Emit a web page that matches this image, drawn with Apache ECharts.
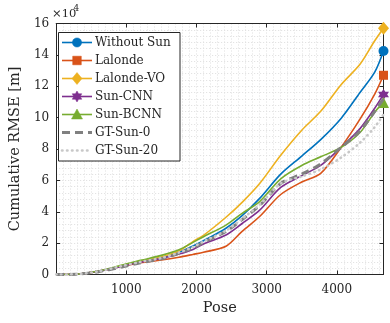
<!DOCTYPE html>
<html><head><meta charset="utf-8">
<script src="https://cdn.jsdelivr.net/npm/echarts@6/dist/echarts.min.js"></script>
<style>html,body{margin:0;padding:0;background:#fff}#c{width:390px;height:323px}</style>
</head><body><div id="c"></div>
<script>
// Pose index (x) and cumulative RMSE in units of 1e4 m (y)
const poses      = [0, 300, 600, 900, 1200, 1500, 1750, 1950, 2100, 2420, 2650, 2900, 3200, 3500, 3770, 4060, 4330, 4540, 4665];
const withoutSun = [0, 0.02, 0.2, 0.5, 0.8, 1.08, 1.42, 1.82, 2.15, 2.95, 3.75, 4.85, 6.4, 7.55, 8.6, 9.95, 11.6, 12.9, 14.25];
const lalonde    = [0, 0.02, 0.2, 0.48, 0.75, 0.92, 1.1, 1.28, 1.42, 1.8, 2.75, 3.7, 5.1, 5.9, 6.45, 8.1, 9.9, 11.5, 12.7];
const lalondeVO  = [0, 0.02, 0.2, 0.5, 0.82, 1.12, 1.5, 2.1, 2.5, 3.65, 4.6, 5.8, 7.6, 9.2, 10.4, 12.1, 13.4, 14.9, 15.7];
const sunCNN     = [0, 0.02, 0.2, 0.48, 0.78, 1.02, 1.3, 1.6, 1.95, 2.52, 3.25, 4.1, 5.55, 6.3, 6.95, 8.1, 9.3, 10.6, 11.48];
const sunBCNN    = [0, 0.02, 0.22, 0.55, 0.9, 1.22, 1.58, 2.05, 2.41, 3.15, 3.9, 4.65, 6.1, 6.95, 7.5, 8.1, 9.05, 10.35, 10.97];
const gtSun0     = [0, 0.02, 0.18, 0.45, 0.75, 1.0, 1.35, 1.7, 2.05, 2.75, 3.5, 4.4, 5.8, 6.4, 7.05, 8.1, 9.15, 10.4, 11.2];
const gtSun20    = [0, 0.02, 0.2, 0.5, 0.8, 1.05, 1.4, 1.75, 2.1, 2.8, 3.55, 4.45, 5.8, 6.25, 6.7, 7.45, 8.4, 9.4, 10.2];

const seriesNames = ['Without Sun', 'Lalonde', 'Lalonde-VO', 'Sun-CNN', 'Sun-BCNN', 'GT-Sun-0', 'GT-Sun-20'];
const seriesValues = [withoutSun, lalonde, lalondeVO, sunCNN, sunBCNN, gtSun0, gtSun20];
const xTicks = [1000, 2000, 3000, 4000];
const yTicks = [0, 2, 4, 6, 8, 10, 12, 14, 16];

const X_MAX = 4665, Y_MAX = 16;
const TXT = '#262626';
const FONT = 'DejaVu Serif';

const hexPath = 'path://M10 0L12.89 5L18.66 5L15.77 10L18.66 15L12.89 15L10 20L7.11 15L1.34 15L4.23 10L1.34 5L7.11 5Z';
const styles = [
  {color:'#0072BD', width:1.6, dash:null, symbol:'circle', size:10, lg:'circle'},
  {color:'#D95319', width:1.6, dash:null, symbol:'rect', size:9, lg:'rect'},
  {color:'#EDB120', width:1.6, dash:null, symbol:'diamond', size:[11,13], lg:'diamond'},
  {color:'#7E2F8E', width:1.6, dash:null, symbol:hexPath, size:11, lg:'hex'},
  {color:'#77AC30', width:1.6, dash:null, symbol:'triangle', size:11, lg:'triangle'},
  {color:'#808080', width:3, dash:[8,5], symbol:'none', size:0, lg:null},
  {color:'#C8C8C8', width:2.6, dash:[0.5,4.5], symbol:'none', size:0, lg:null}
];

const last = poses.length - 1;
const series = seriesNames.map((name, k) => {
  const st = styles[k];
  return {
    type:'line', name, xAxisIndex:0, yAxisIndex:0,
    data: poses.map((x, i) => [x, seriesValues[k][i]]),
    smooth:0.3,
    symbol: st.symbol === 'none' ? 'none' : st.symbol,
    showSymbol: st.symbol !== 'none',
    symbolSize: (v, p) => (p.dataIndex === last ? st.size : 0),
    itemStyle:{color:st.color, borderColor:st.color, borderWidth:0},
    lineStyle:{color:st.color, width:st.width, type: st.dash || 'solid', cap: k===6 ? 'round' : 'butt'},
    silent:true, z: 2 + k
  };
});

// legend drawn as graphic
const lg = [];
const bx = 58.5, by = 32.5, bw = 121.5, bh = 128.5;
lg.push({type:'rect', shape:{x:bx, y:by, width:bw, height:bh}, style:{fill:'#fff', stroke:TXT, lineWidth:1}, z:100});
seriesNames.forEach((name, k) => {
  const st = styles[k];
  const cy = 42.5 + k * 18;
  lg.push({type:'line', shape:{x1:62, y1:cy, x2:92, y2:cy},
    style:{stroke:st.color, lineWidth:st.width, lineDash: st.dash || null, lineCap: k===6 ? 'round':'butt'}, z:101});
  const cx = 77;
  const sty = {fill:st.color, stroke:st.color, lineWidth:0.5};
  if (st.lg === 'circle') lg.push({type:'circle', shape:{cx, cy, r:4.6}, style:sty, z:102});
  else if (st.lg === 'rect') lg.push({type:'rect', shape:{x:cx-4.3, y:cy-4.3, width:8.6, height:8.6}, style:sty, z:102});
  else if (st.lg === 'diamond') lg.push({type:'polygon', shape:{points:[[cx,cy-6],[cx+5,cy],[cx,cy+6],[cx-5,cy]]}, style:sty, z:102});
  else if (st.lg === 'triangle') lg.push({type:'polygon', shape:{points:[[cx,cy-5.5],[cx+5.5,cy+4.5],[cx-5.5,cy+4.5]]}, style:sty, z:102});
  else if (st.lg === 'hex') {
    const pts = [];
    for (let j = 0; j < 12; j++) {
      const a = -Math.PI/2 + j * Math.PI/6;
      const r = j % 2 === 0 ? 5.5 : 3.2;
      pts.push([cx + r*Math.cos(a), cy + r*Math.sin(a)]);
    }
    lg.push({type:'polygon', shape:{points:pts}, style:sty, z:102});
  }
  lg.push({type:'text', x:95, y:cy, style:{text:name, fill:TXT, font:'12px "DejaVu Serif"', verticalAlign:'middle', align:'left'}, z:102});
});
lg.push({type:'text', x:52, y:14, style:{text:'×10', fill:TXT, font:'11.5px "DejaVu Serif"', verticalAlign:'middle', align:'left'}, z:102});
lg.push({type:'text', x:73.5, y:9, style:{text:'4', fill:TXT, font:'9px "DejaVu Serif"', verticalAlign:'middle', align:'left'}, z:102});

const gridLine = {show:true, lineStyle:{color:'#dedede', width:1, type:[1,2]}};
const boxAxis = () => ({show:true, onZero:false, lineStyle:{color:TXT, width:1}});

const option = {
  animation:false,
  backgroundColor:'#fff',
  grid:{left:50, right:6.5, top:23.5, bottom:48.5, containLabel:false},
  xAxis:[
    {type:'value', min:0, max:X_MAX, interval:1000, position:'bottom',
     axisLine:boxAxis(), axisTick:{show:true, inside:true, length:4, lineStyle:{color:TXT}},
     axisLabel:{color:TXT, fontFamily:FONT, fontSize:12, margin:9, showMinLabel:false, showMaxLabel:false,
       formatter:(v)=> xTicks.includes(v) ? String(v) : ''},
     splitLine:{show:false},
     name:'Pose', nameLocation:'middle', nameGap:26, nameTextStyle:{color:TXT, fontFamily:FONT, fontSize:14.5}},
    {type:'value', min:0, max:X_MAX, interval:1000, position:'top',
     axisLine:boxAxis(), axisTick:{show:true, inside:true, length:4, lineStyle:{color:TXT}},
     axisLabel:{show:false}, splitLine:{show:false}},
    {type:'value', min:0, max:X_MAX, interval:100, show:true, position:'bottom',
     axisLine:{show:false}, axisTick:{show:false}, axisLabel:{show:false}, splitLine:gridLine, z:0}
  ],
  yAxis:[
    {type:'value', min:0, max:Y_MAX, interval:2, position:'left',
     axisLine:boxAxis(), axisTick:{show:true, inside:true, length:4, lineStyle:{color:TXT}},
     axisLabel:{color:TXT, fontFamily:FONT, fontSize:12, margin:7,
       formatter:(v)=> yTicks.includes(v) ? String(v) : ''},
     splitLine:{show:false},
     name:'Cumulative RMSE [m]', nameLocation:'middle', nameGap:30, nameTextStyle:{color:TXT, fontFamily:FONT, fontSize:14.5}},
    {type:'value', min:0, max:Y_MAX, interval:2, position:'right',
     axisLine:boxAxis(), axisTick:{show:true, inside:true, length:4, lineStyle:{color:TXT}},
     axisLabel:{show:false}, splitLine:{show:false}},
    {type:'value', min:0, max:Y_MAX, interval:0.4, show:true, position:'left',
     axisLine:{show:false}, axisTick:{show:false}, axisLabel:{show:false}, splitLine:gridLine, z:0}
  ],
  series,
  graphic:{elements:lg}
};

const chart = echarts.init(document.getElementById('c'), null, {renderer:'canvas'});
chart.setOption(option);
</script>
</body></html>
